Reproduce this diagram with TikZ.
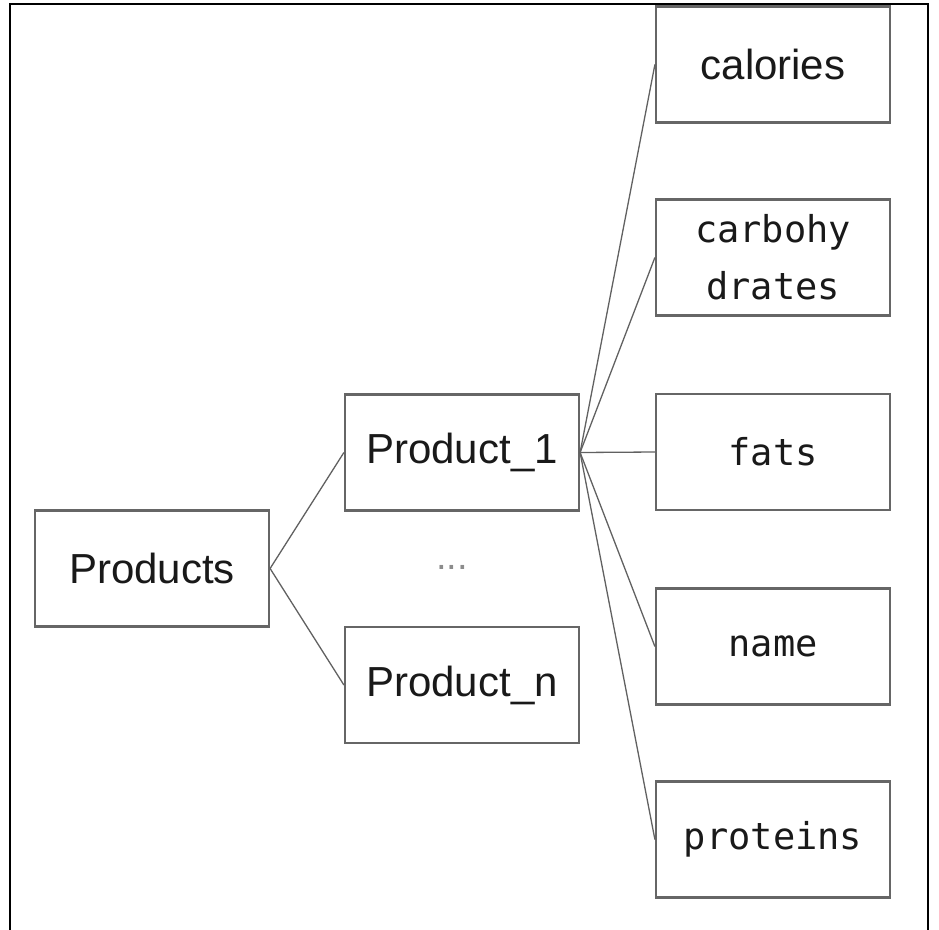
\documentclass[tikz,border=0pt]{standalone}
\usepackage{fontspec}
\newfontfamily\arialf{Liberation Sans}
\newfontfamily\monof{DejaVu Sans Mono}
\begin{document}
\begin{tikzpicture}[x=1pt,y=-1pt,
  box/.style={draw=black!60, line width=2.2pt, rectangle, inner sep=0pt,
    minimum width=234pt, minimum height=116pt, align=center},
  sanslbl/.style={font=\arialf\fontsize{42}{50}\selectfont, text=black!90},
  monolbl/.style={font=\monof\fontsize{37}{57}\selectfont, text=black!90},
  conn/.style={draw=black!62, line width=1.3pt}]
\useasboundingbox (0,0) rectangle (939,929);
\draw[line width=2.5pt] (10,960) -- (10,4) -- (928,4) -- (928,960);
\node[box, sanslbl] (products) at (152,568.5) {Products};
\node[box, sanslbl] (p1) at (462,452.5) {Product\_1};
\node[box, sanslbl] (pn) at (462,685) {Product\_n};
\node[font=\arialf\fontsize{38}{40}\selectfont, text=black!45] (dots) at (452,567) {...};
\node[box, sanslbl] (cal) at (773,64.5) {calories};
\node[box, monolbl] (carb) at (773,257.5) {carbohy\\drates};
\node[box, monolbl] (fats) at (773,452) {fats};
\node[box, monolbl] (name) at (773,646.5) {name};
\node[box, monolbl] (prot) at (773,839.5) {proteins};
\draw[conn] (products.east) -- (p1.west);
\draw[conn] (products.east) -- (pn.west);
\foreach \t in {cal,carb,fats,name,prot}{
  \draw[conn] (p1.east) -- (\t.west);
}
\end{tikzpicture}
\end{document}
